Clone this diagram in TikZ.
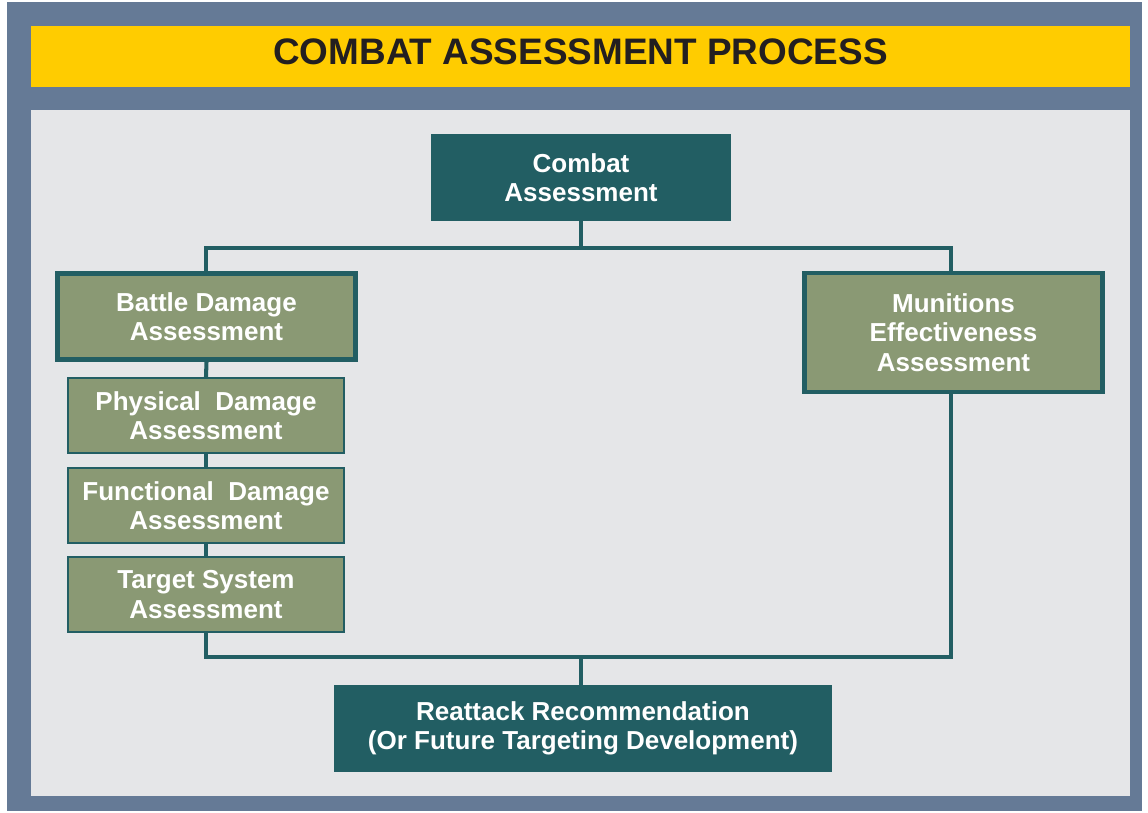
\documentclass[tikz,border=0pt]{standalone}
\usepackage{fontspec}
\setmainfont{Liberation Sans}
\usepackage{tikz}
\usetikzlibrary{positioning}

\definecolor{frameblue}{HTML}{657A96}
\definecolor{titleyellow}{HTML}{FFCC00}
\definecolor{panelgray}{HTML}{E5E6E8}
\definecolor{darkteal}{HTML}{225E63}
\definecolor{sage}{HTML}{8A9974}
\definecolor{titleink}{HTML}{231F20}

\begin{document}
\begin{tikzpicture}[
            x=0.02cm,y=-0.02cm,
            box/.style={rectangle,inner sep=0pt,align=center,text=white,
              font=\fontsize{14.8}{16.8}\selectfont\bfseries},
            topbox/.style={box,fill=darkteal},
            mainbox/.style={box,fill=sage,draw=darkteal,line width=2.6pt},
            subbox/.style={box,fill=sage,draw=darkteal,line width=1.3pt,
              minimum width=276*0.02cm,minimum height=75*0.02cm},
            link/.style={draw=darkteal,line width=2.3pt}
          ]
          \useasboundingbox (0,0) rectangle (1148,813);
          %frame
          \fill[white] (0,0) rectangle (1148,813);
          \fill[frameblue] (7,2) rectangle (1142,811);
          \fill[titleyellow] (31,26) rectangle (1130,87);
          \fill[panelgray] (31,110) rectangle (1130,796);
          \node[text=titleink,font=\fontsize{21}{24}\selectfont\bfseries] (title) at (580.5,52) {COMBAT ASSESSMENT PROCESS};

          %boxes
          \node[topbox,minimum width=300*0.02cm,minimum height=87*0.02cm] (ca) at (581,177.5) {Combat\\Assessment};
          \node[mainbox,minimum width=298*0.02cm,minimum height=86*0.02cm] (bda) at (206.5,316.5) {Battle Damage\\Assessment};
          \node[subbox] (pda) at (206,415.5) {Physical\ \ Damage\\Assessment};
          \node[subbox] (fda) at (206,505.5) {Functional\ \ Damage\\Assessment};
          \node[subbox] (tsa) at (206,594.5) {Target System\\Assessment};
          \node[mainbox,minimum width=298*0.02cm,minimum height=119*0.02cm] (mea) at (953.5,332.5) {Munitions\\Effectiveness\\Assessment};
          \node[topbox,minimum width=498*0.02cm,minimum height=87*0.02cm] (rr) at (583,728.5) {Reattack Recommendation\\(Or Future Targeting Development)};

          %links
          \coordinate (split) at (581,248);
          \coordinate (join) at (581,657);
          \path[link] (ca.south) -- (split);
          \path[link] (bda.north -| 206,0) |- (split) -| (mea.north -| 951,0);
          \path[link] (bda.south) -- (pda.north);
          \path[link] (pda.south) -- (fda.north);
          \path[link] (fda.south) -- (tsa.north);
          \path[link] (tsa.south) |- (join) -| (mea.south -| 951,0);
          \path[link] (join) -- (join |- rr.north);
      \end{tikzpicture}
\end{document}
